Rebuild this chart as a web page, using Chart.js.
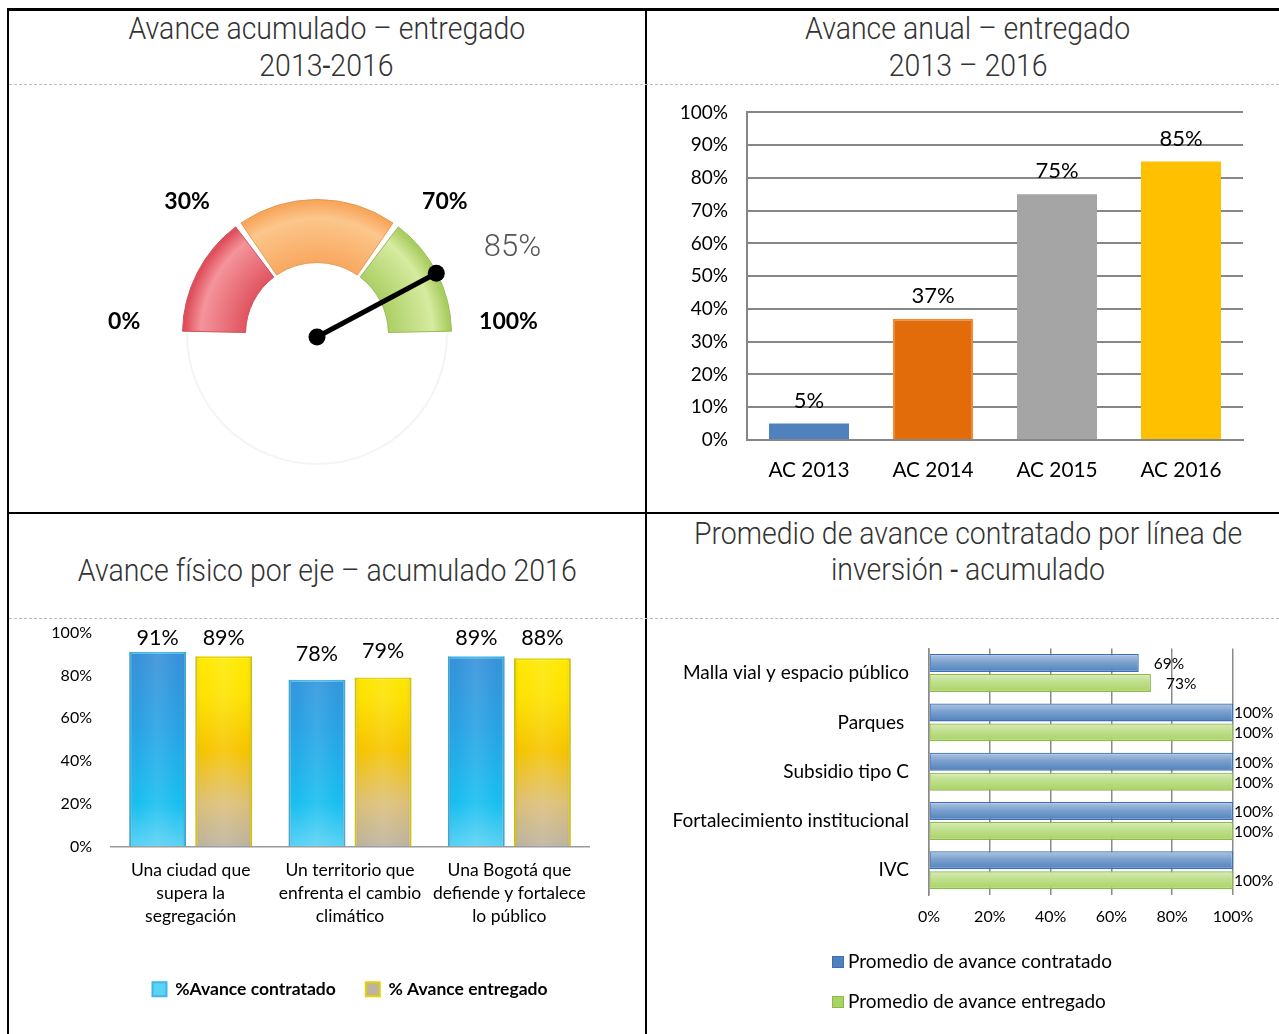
<!DOCTYPE html>
<html>
<head>
<meta charset="utf-8">
<script src="https://cdn.jsdelivr.net/npm/chart.js@4.4.0/dist/chart.umd.min.js"></script>
<style>
  body { margin: 0; background: #fff; width: 1279px; height: 1034px; overflow: hidden; position: relative; }
  .line { position: absolute; background: #000; }
  .dash { position: absolute; height: 0; border-top: 1px dashed #bcbcbc; }
  .title { position: absolute; text-align: center; font-family: Roboto, sans-serif; font-weight: 300;
           color: #333; font-size: 32px; line-height: 38px; white-space: nowrap; }
  .title span { display: inline-block; transform: scaleX(0.89); }
  canvas { position: absolute; }
</style>
</head>
<body>
<!-- frame -->
<div class="line" style="left:7px;top:8px;width:1272px;height:3px"></div>
<div class="line" style="left:7px;top:8px;width:2px;height:1026px"></div>
<div class="line" style="left:645px;top:8px;width:2px;height:1026px"></div>
<div class="line" style="left:7px;top:512px;width:1272px;height:2px"></div>
<div class="dash" style="left:9px;top:84px;width:1270px"></div>
<div class="dash" style="left:9px;top:618px;width:1270px"></div>

<!-- titles -->
<div class="title" style="left:9px;width:636px;top:9px"><span>Avance acumulado – entregado</span></div>
<div class="title" style="left:9px;width:634px;top:46px"><span>2013<b>-</b>2016</span></div>
<div class="title" style="left:657px;width:622px;top:9px"><span>Avance anual – entregado</span></div>
<div class="title" style="left:657px;width:622px;top:46px"><span>2013 – 2016</span></div>
<div class="title" style="left:9px;width:636px;top:551px"><span>Avance físico por eje – acumulado 2016</span></div>
<div class="title" style="left:657px;width:622px;top:514px"><span>Promedio de avance contratado por línea de</span></div>
<div class="title" style="left:657px;width:622px;top:550px"><span>inversión <b>-</b> acumulado</span></div>

<canvas id="gauge" width="614" height="420" style="left:10px;top:59px"></canvas>
<canvas id="annual" width="631" height="428" style="left:648px;top:82px"></canvas>
<canvas id="eje" width="634" height="410" style="left:10px;top:612px"></canvas>
<canvas id="linea" width="631" height="408" style="left:648px;top:625px"></canvas>

<script>
// gauge: accumulated delivered
const gaugeBandNames = ['0-30%', '30-70%', '70-100%'];
const gaugeBands = [30, 40, 30];
const gaugeTicks = ['0%', '30%', '70%', '100%'];
const gaugeValue = 85;

// annual delivered
const annualCats = ['AC 2013', 'AC 2014', 'AC 2015', 'AC 2016'];
const annualValues = [5, 37, 75, 85];
const annualTicks = ['0%', '10%', '20%', '30%', '40%', '50%', '60%', '70%', '80%', '90%', '100%'];

// physical progress by axis
const ejeCats = [
  ['Una ciudad que', 'supera la', 'segregación'],
  ['Un territorio que', 'enfrenta el cambio', 'climático'],
  ['Una Bogotá que', 'defiende y fortalece', 'lo público']
];
const ejeContratado = [91, 78, 89];
const ejeEntregado = [89, 79, 88];

// average by investment line
const lineaCats = ['Malla vial y espacio público', 'Parques ', 'Subsidio tipo C', 'Fortalecimiento institucional', 'IVC'];
const lineaContratado = [69, 100, 100, 100, 100];
const lineaEntregado = [73, 100, 100, 100, 100];
const lineaContratadoShown = [true, true, true, true, false];

Chart.defaults.font.family = 'Lato, "Liberation Sans", sans-serif';
Chart.defaults.color = '#000';
Chart.defaults.animation = false;
Chart.defaults.plugins.legend.display = false;
Chart.defaults.plugins.tooltip.enabled = false;

// ---------- gauge ----------
const gaugeNeedle = {
  id: 'gaugeNeedle',
  beforeDatasetsDraw(chart) {
    // faint lower half of the dial
    const arc = chart.getDatasetMeta(0).data[0];
    const ctx = chart.ctx;
    ctx.save();
    ctx.strokeStyle = '#f4f4f4';
    ctx.lineWidth = 2;
    ctx.beginPath();
    ctx.arc(arc.x, arc.y, arc.outerRadius, 0, Math.PI);
    ctx.stroke();
    ctx.restore();
  },
  afterDatasetsDraw(chart) {
    const arc = chart.getDatasetMeta(0).data[0];
    const cx = arc.x, cy = arc.y, r = arc.outerRadius * 1.03;
    const ctx = chart.ctx;
    ctx.save();
    // tick labels around the dial
    const spots = [[-1.44, -0.09], [-0.97, -0.99], [0.955, -0.99], [1.43, -0.09]];
    ctx.font = 'bold 23px Lato';
    ctx.fillStyle = '#000';
    ctx.textAlign = 'center';
    ctx.textBaseline = 'middle';
    gaugeTicks.forEach((t, i) => ctx.fillText(t, cx + spots[i][0] * r, cy + spots[i][1] * r));
    ctx.font = '300 31px Roboto';
    ctx.fillStyle = '#555';
    ctx.fillText(gaugeValue + '%', cx + 1.46 * r, cy - 0.64 * r);
    // needle
    const a = Math.PI + Math.PI * gaugeValue / 100;
    const ex = cx + Math.cos(a) * r, ey = cy + Math.sin(a) * r;
    ctx.strokeStyle = '#000';
    ctx.lineWidth = 5;
    ctx.beginPath();
    ctx.moveTo(cx, cy + 3);
    ctx.lineTo(ex, ey);
    ctx.stroke();
    ctx.fillStyle = '#000';
    ctx.beginPath(); ctx.arc(cx, cy + 3, 8.5, 0, Math.PI * 2); ctx.fill();
    ctx.beginPath(); ctx.arc(ex, ey, 8.5, 0, Math.PI * 2); ctx.fill();
    ctx.restore();
  }
};

function gaugeFill(ctx) {
  const base = ['#df4f5b', '#f8a65c', '#a9cd60'];
  const light = ['#f4949b', '#fcc68c', '#d6eba0'];
  const chart = ctx.chart, a = chart.chartArea;
  if (!a) return base[ctx.dataIndex];
  const cx = (a.left + a.right) / 2, cy = (a.top + a.bottom) / 2 + 65;
  const g = chart.ctx.createRadialGradient(cx, cy, 68, cx, cy, 132);
  g.addColorStop(0, base[ctx.dataIndex]);
  g.addColorStop(0.75, light[ctx.dataIndex]);
  g.addColorStop(1, base[ctx.dataIndex]);
  return g;
}

new Chart(document.getElementById('gauge'), {
  type: 'doughnut',
  data: {
    labels: gaugeBandNames,
    datasets: [{
      data: gaugeBands,
      backgroundColor: gaugeFill,
      borderColor: ['#c9545c', '#e59a52', '#9ab85c'],
      borderWidth: 1,
      spacing: 9
    }]
  },
  options: {
    responsive: false,
    rotation: -90,
    circumference: 180,
    cutout: '51.5%',
    radius: 130
  },
  plugins: [gaugeNeedle]
});

// ---------- annual bars ----------
const annualLabels = {
  id: 'annualLabels',
  afterDatasetsDraw(chart) {
    const ctx = chart.ctx;
    ctx.save();
    ctx.font = '22px Lato';
    ctx.fillStyle = '#000';
    ctx.textAlign = 'center';
    ctx.textBaseline = 'middle';
    chart.getDatasetMeta(0).data.forEach((bar, i) => {
      ctx.fillText(annualValues[i] + '%', bar.x, bar.y - 23);
    });
    ctx.restore();
  }
};

new Chart(document.getElementById('annual'), {
  type: 'bar',
  data: {
    labels: annualCats,
    datasets: [{
      data: annualValues,
      backgroundColor: ['#4f81bd', '#e36c0a', '#a5a5a5', '#ffc000'],
      borderColor: ['#4f81bd', '#f08a3a', '#a5a5a5', '#ffc000'],
      borderWidth: [0, 2, 0, 0],
      barPercentage: 0.645,
      categoryPercentage: 1
    }]
  },
  options: {
    responsive: false,
    layout: { padding: { top: 0, right: 36, left: 0, bottom: 0 } },
    scales: {
      x: {
        grid: { display: false },
        border: { color: '#868686', width: 2 },
        ticks: { font: { size: 20.8 }, padding: 10, color: '#000' },
        afterFit: s => { s.height = 70; }
      },
      y: {
        min: 0, max: 100,
        grid: { color: '#868686', lineWidth: 2, drawTicks: false },
        border: { color: '#868686', width: 2 },
        ticks: { stepSize: 10, padding: 19, font: { size: 19 }, color: '#000',
                 callback: (v, i) => annualTicks[i] },
        afterFit: s => { s.width = 99; }
      }
    }
  },
  plugins: [annualLabels]
});

// ---------- physical progress by axis ----------
function blueFill(ctx) {
  const a = ctx.chart.chartArea;
  if (!a) return '#2aa6e4';
  const g = ctx.chart.ctx.createLinearGradient(0, a.top, 0, a.bottom);
  g.addColorStop(0, '#3c8bd5');
  g.addColorStop(0.45, '#27a2e4');
  g.addColorStop(0.8, '#18bff0');
  g.addColorStop(1, '#5cd2f4');
  return g;
}
function yellowFill(ctx) {
  const a = ctx.chart.chartArea;
  if (!a) return '#f8d000';
  const g = ctx.chart.ctx.createLinearGradient(0, a.top, 0, a.bottom);
  g.addColorStop(0, '#ffee00');
  g.addColorStop(0.3, '#fde200');
  g.addColorStop(0.55, '#f6c400');
  g.addColorStop(0.8, '#dcc07a');
  g.addColorStop(1, '#bdb3a0');
  return g;
}
const barGloss = {
  id: 'barGloss',
  afterDatasetsDraw(chart) {
    const ctx = chart.ctx;
    ctx.save();
    chart.data.datasets.forEach((ds, di) => {
      chart.getDatasetMeta(di).data.forEach(bar => {
        const l = bar.x - bar.width / 2, w = bar.width;
        const g = ctx.createLinearGradient(l, 0, l + w, 0);
        g.addColorStop(0, 'rgba(0,0,0,0.10)');
        g.addColorStop(0.12, 'rgba(255,255,255,0)');
        g.addColorStop(0.5, 'rgba(255,255,255,0.10)');
        g.addColorStop(0.88, 'rgba(255,255,255,0)');
        g.addColorStop(1, 'rgba(0,0,0,0.10)');
        ctx.fillStyle = g;
        ctx.fillRect(l, bar.y, w, bar.base - bar.y);
      });
    });
    ctx.restore();
  }
};
const ejeLabels = {
  id: 'ejeLabels',
  afterDatasetsDraw(chart) {
    const ctx = chart.ctx;
    ctx.save();
    ctx.font = '21.5px Lato';
    ctx.fillStyle = '#000';
    ctx.textAlign = 'center';
    ctx.textBaseline = 'middle';
    chart.data.datasets.forEach((ds, di) => {
      chart.getDatasetMeta(di).data.forEach((bar, i) => {
        const y = Math.max(bar.y - 26, chart.chartArea.top + 5);
        ctx.fillText(ds.data[i] + '%', bar.x, y);
      });
    });
    ctx.restore();
  }
};

new Chart(document.getElementById('eje'), {
  type: 'bar',
  data: {
    labels: ejeCats,
    datasets: [
      { label: '%Avance contratado', data: ejeContratado, backgroundColor: blueFill,
        borderColor: '#3fb6e6', borderWidth: 2, barPercentage: 0.86, categoryPercentage: 0.83 },
      { label: '% Avance entregado', data: ejeEntregado, backgroundColor: yellowFill,
        borderColor: '#e2d300', borderWidth: 2, barPercentage: 0.86, categoryPercentage: 0.83 }
    ]
  },
  options: {
    responsive: false,
    layout: { padding: { top: 0, right: 55, left: 0, bottom: 14 } },
    plugins: {
      legend: {
        display: true,
        position: 'bottom',
        fullSize: false,
        labels: { boxWidth: 14, boxHeight: 14, padding: 30, color: '#000',
                  font: { size: 17.5, weight: 'bold' } }
      }
    },
    scales: {
      x: {
        grid: { display: false },
        border: { color: '#9a9a9a', width: 1.5 },
        ticks: { font: { size: 17.5, lineHeight: '23px' }, padding: 4.5, color: '#000', maxRotation: 0 },
        afterFit: s => { s.height = 104; }
      },
      y: {
        min: 0, max: 100,
        grid: { display: false },
        border: { display: false },
        ticks: { stepSize: 20, padding: 11, font: { size: 16 }, color: '#000', callback: v => v + '%' },
        afterFit: s => { s.width = 101; }
      }
    }
  },
  plugins: [barGloss, ejeLabels]
});

// ---------- average by investment line ----------
const hbarGloss = {
  id: 'hbarGloss',
  afterDatasetsDraw(chart) {
    const ctx = chart.ctx;
    ctx.save();
    chart.data.datasets.forEach((ds, di) => {
      chart.getDatasetMeta(di).data.forEach(bar => {
        const t = bar.y - bar.height / 2, h = bar.height;
        const g = ctx.createLinearGradient(0, t, 0, t + h);
        g.addColorStop(0, 'rgba(255,255,255,0.55)');
        g.addColorStop(0.45, 'rgba(255,255,255,0.25)');
        g.addColorStop(1, 'rgba(255,255,255,0)');
        ctx.fillStyle = g;
        ctx.fillRect(bar.base + 1, t + 1, bar.x - bar.base - 2, h - 2);
      });
    });
    ctx.restore();
  }
};
const lineaLabels = {
  id: 'lineaLabels',
  afterDatasetsDraw(chart) {
    const ctx = chart.ctx;
    ctx.save();
    ctx.font = '15.5px Lato';
    ctx.fillStyle = '#000';
    ctx.textAlign = 'left';
    ctx.textBaseline = 'middle';
    chart.data.datasets.forEach((ds, di) => {
      chart.getDatasetMeta(di).data.forEach((bar, i) => {
        if (di === 0 && !lineaContratadoShown[i]) return;
        const x = Math.min(bar.x + 15, chart.chartArea.right + 1);
        ctx.fillText(ds.data[i] + '%', x, bar.y + 1);
      });
    });
    // legend
    ctx.font = '19px Lato';
    const items = [['Promedio de avance contratado', '#4f81bd', '#3b6fb6'], ['Promedio de avance entregado', '#a9d464', '#8fb84a']];
    items.forEach((it, i) => {
      const y = 337 + i * 40;
      ctx.fillStyle = it[1];
      ctx.fillRect(184, y - 6, 12, 12);
      ctx.strokeStyle = it[2];
      ctx.lineWidth = 1;
      ctx.strokeRect(184.5, y - 5.5, 11, 11);
      ctx.fillStyle = '#000';
      ctx.fillText(it[0], 200, y);
    });
    ctx.restore();
  }
};

new Chart(document.getElementById('linea'), {
  type: 'bar',
  data: {
    labels: lineaCats,
    datasets: [
      { label: 'Promedio de avance contratado', data: lineaContratado, backgroundColor: '#4f81bd',
        borderColor: '#3b6fb6', borderWidth: 1.5, barPercentage: 0.9, categoryPercentage: 0.81 },
      { label: 'Promedio de avance entregado', data: lineaEntregado, backgroundColor: '#a9d464',
        borderColor: '#8fb84a', borderWidth: 1.5, barPercentage: 0.9, categoryPercentage: 0.81 }
    ]
  },
  options: {
    indexAxis: 'y',
    responsive: false,
    layout: { padding: { top: 0, right: 46, left: 0, bottom: 98 } },
    scales: {
      x: {
        min: 0, max: 100,
        grid: { color: '#8a8a8a', lineWidth: 1.5, drawTicks: false },
        border: { display: false },
        ticks: { stepSize: 20, padding: 12, font: { size: 16 }, color: '#000', callback: v => v + '%' },
        afterFit: s => { s.height = 40; }
      },
      y: {
        grid: { display: false },
        border: { color: '#8a8a8a', width: 1.5 },
        ticks: { padding: 12, font: { size: 19 }, color: '#000' },
        afterFit: s => { s.width = 281; }
      }
    }
  },
  plugins: [hbarGloss, lineaLabels]
});
</script>
</body>
</html>
